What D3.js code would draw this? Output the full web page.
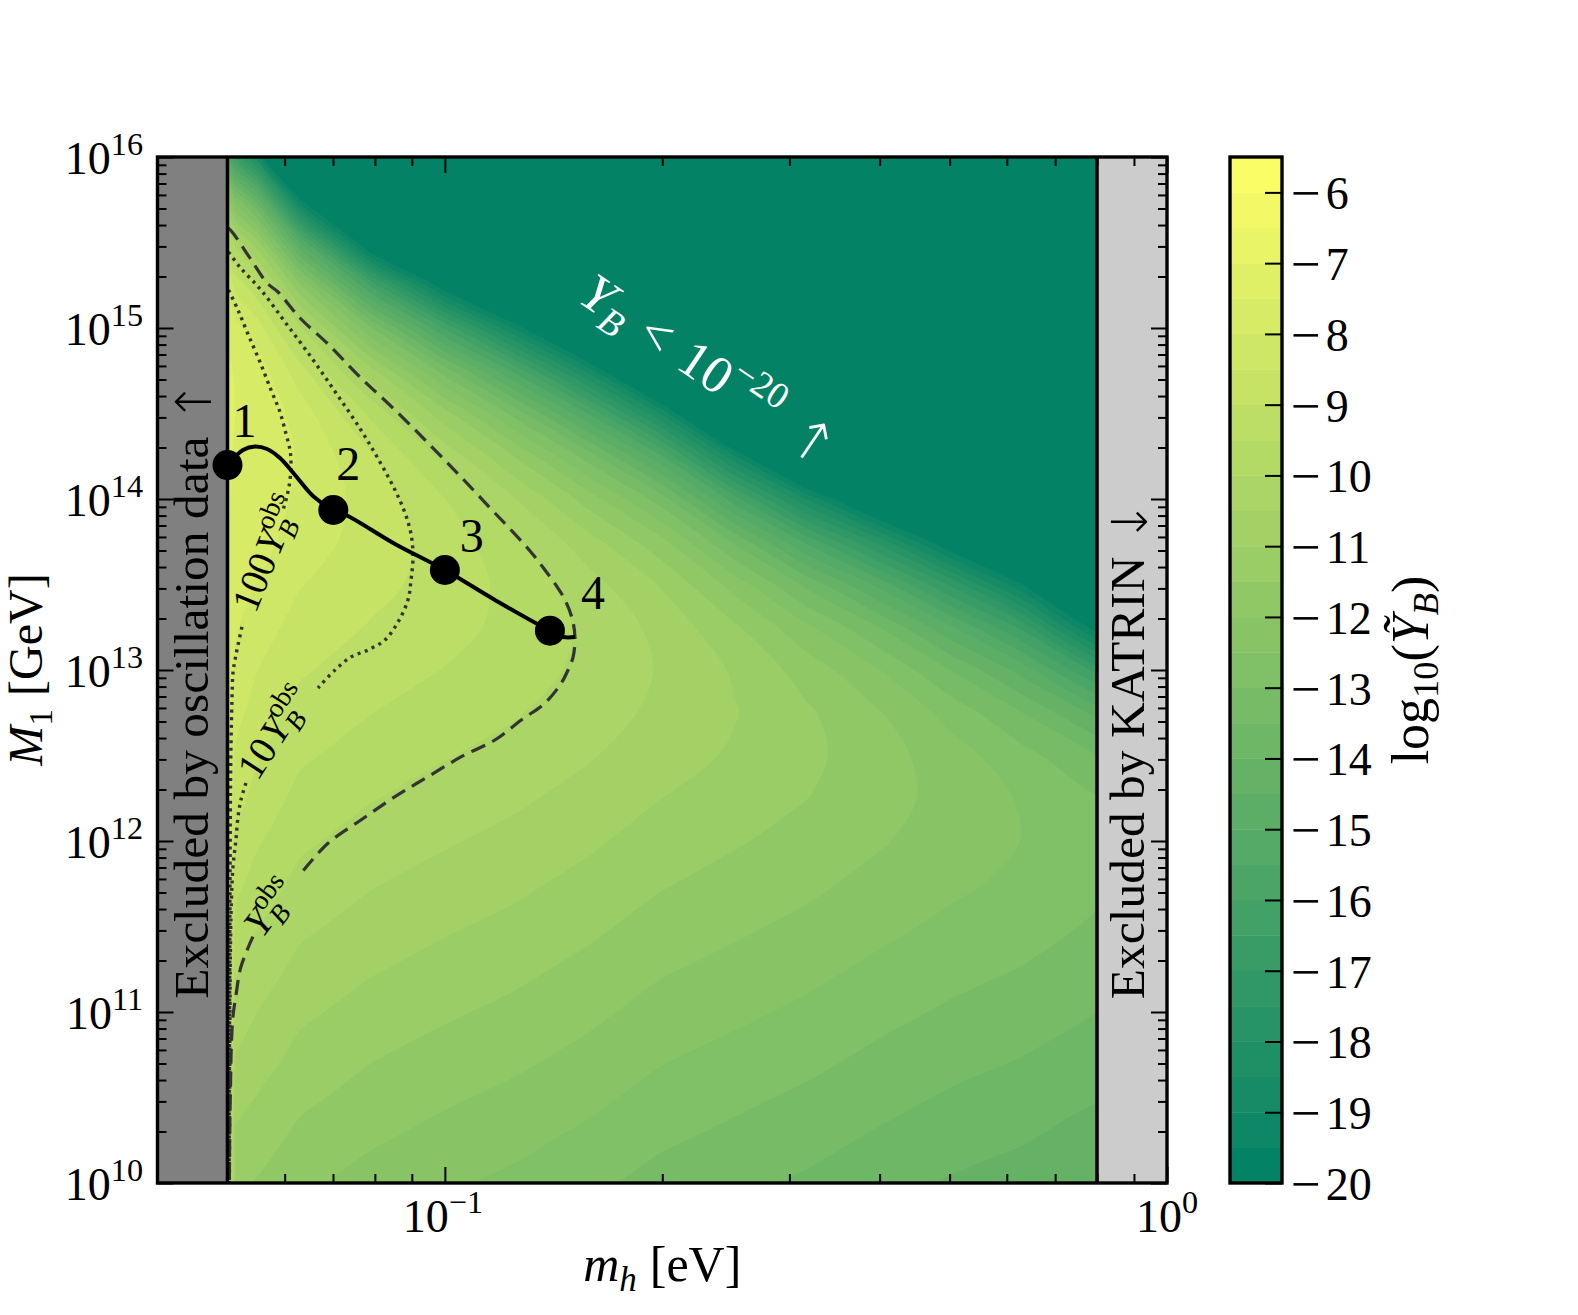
<!DOCTYPE html>
<html><head><meta charset="utf-8">
<script src="https://cdn.jsdelivr.net/npm/d3@7/dist/d3.min.js"></script>
<style>
html,body{margin:0;padding:0;background:#fff;}
svg text{font-family:"Liberation Serif","DejaVu Serif",serif;fill:#000;}
</style></head>
<body>
<svg id="fig" width="1578" height="1315"></svg>
<script>
// ---------------- DATA ----------------
// grid columns: m_h [eV]
const mhGrid = [0.05, 0.05129, 0.05495, 0.06310, 0.07943, 0.1000, 0.1259, 0.1585, 0.1995, 0.2512, 0.3162, 0.3981, 0.5012, 0.6310, 0.8128];
// grid rows: log10(M1 / GeV)
const log10M1Grid = [10, 10.25, 10.5, 10.75, 11, 11.25, 11.5, 11.75, 12, 12.25, 12.5, 12.75, 13, 13.25, 13.5, 13.75, 14, 14.25, 14.5, 14.75, 15, 15.25, 15.5, 15.75, 16];
// log10(Y_B) (rows follow log10M1Grid, columns follow mhGrid)
const logYBGrid = [
 [-8.60,-11.40,-11.54,-11.89,-12.20,-12.42,-12.62,-12.88,-13.18,-13.38,-13.58,-13.82,-14.05,-14.22,-14.47],
 [-8.52,-11.10,-11.28,-11.64,-11.95,-12.17,-12.38,-12.63,-12.93,-13.13,-13.33,-13.58,-13.80,-13.97,-14.23],
 [-8.45,-10.80,-11.02,-11.39,-11.70,-11.93,-12.13,-12.38,-12.68,-12.89,-13.09,-13.33,-13.56,-13.73,-13.98],
 [-8.38,-10.50,-10.76,-11.14,-11.46,-11.68,-11.88,-12.13,-12.44,-12.64,-12.84,-13.09,-13.31,-13.49,-13.74],
 [-8.30,-10.20,-10.50,-10.90,-11.21,-11.43,-11.63,-11.89,-12.19,-12.39,-12.60,-12.85,-13.07,-13.25,-13.51],
 [-8.22,-9.94,-10.24,-10.65,-10.96,-11.18,-11.39,-11.64,-11.95,-12.15,-12.36,-12.61,-12.84,-13.02,-13.28],
 [-8.15,-9.65,-9.98,-10.40,-10.71,-10.94,-11.14,-11.40,-11.70,-11.91,-12.12,-12.37,-12.61,-12.81,-13.08],
 [-8.08,-9.35,-9.72,-10.15,-10.47,-10.69,-10.90,-11.16,-11.46,-11.68,-11.89,-12.15,-12.40,-12.62,-12.91],
 [-8.00,-9.07,-9.44,-9.91,-10.22,-10.45,-10.66,-10.92,-11.23,-11.45,-11.68,-11.95,-12.24,-12.51,-12.85],
 [-7.92,-8.82,-9.18,-9.66,-9.98,-10.21,-10.42,-10.69,-11.00,-11.23,-11.49,-11.81,-12.17,-12.55,-12.99],
 [-7.85,-8.58,-8.95,-9.42,-9.74,-9.97,-10.19,-10.46,-10.79,-11.06,-11.38,-11.78,-12.28,-12.83,-13.54],
 [-7.78,-8.33,-8.74,-9.17,-9.50,-9.74,-9.97,-10.27,-10.62,-10.97,-11.42,-11.96,-12.68,-13.50,-14.73],
 [-7.70,-8.09,-8.50,-8.94,-9.27,-9.52,-9.78,-10.13,-10.55,-11.05,-11.71,-12.48,-13.51,-14.71,-16.83],
 [-7.62,-7.95,-8.27,-8.70,-9.05,-9.33,-9.66,-10.11,-10.65,-11.41,-12.39,-13.48,-14.92,-16.66,-20.12],
 [-7.55,-7.83,-8.02,-8.48,-8.85,-9.21,-9.68,-10.31,-11.05,-12.19,-13.62,-15.14,-17.09,-19.50,-24.89],
 [-7.50,-7.72,-7.78,-8.27,-8.72,-9.23,-9.93,-10.81,-11.86,-13.57,-15.59,-17.66,-20.21,-23.46,-30],
 [-7.45,-7.62,-7.66,-8.12,-8.72,-9.50,-10.52,-11.75,-13.27,-15.74,-18.50,-21.21,-24.47,-28.70,-30],
 [-7.42,-7.55,-7.58,-8.07,-8.97,-10.15,-11.57,-13.27,-15.44,-18.89,-22.53,-26.00,-30,-30,-30],
 [-7.40,-7.51,-7.55,-8.24,-9.64,-11.33,-13.25,-15.55,-18.58,-23.20,-27.90,-30,-30,-30,-30],
 [-7.45,-7.53,-7.72,-8.81,-10.92,-13.25,-15.73,-18.74,-22.90,-28.90,-30,-30,-30,-30,-30],
 [-7.60,-7.85,-8.26,-9.97,-13.04,-16.09,-19.18,-23.00,-28.50,-30,-30,-30,-30,-30,-30],
 [-8.10,-8.66,-9.38,-11.97,-16.20,-20.04,-23.75,-28.50,-30,-30,-30,-30,-30,-30,-30],
 [-9.50,-10.20,-11.30,-15.07,-20.70,-25.30,-29.60,-30,-30,-30,-30,-30,-30,-30,-30],
 [-11.70,-12.73,-14.25,-19.50,-26.70,-30,-30,-30,-30,-30,-30,-30,-30,-30,-30],
 [-15.20,-16.50,-18.48,-25.50,-30,-30,-30,-30,-30,-30,-30,-30,-30,-30,-30]
];
// filled-contour levels and colorbar ticks
const levels = [-20,-19.5,-19,-18.5,-18,-17.5,-17,-16.5,-16,-15.5,-15,-14.5,-14,-13.5,-13,-12.5,-12,-11.5,-11,-10.5,-10,-9.5,-9,-8.5,-8,-7.5,-7,-6.5,-6,-5.5];
const cbarTicks = [-6,-7,-8,-9,-10,-11,-12,-13,-14,-15,-16,-17,-18,-19,-20];
// axis ticks
const xMajor = [0.1, 1];
const xMinor = [0.05,0.06,0.07,0.08,0.09,0.2,0.3,0.4,0.5,0.6,0.7,0.8,0.9];
const yMajorExp = [10,11,12,13,14,15,16];
// benchmark curve (solid) and points
const benchMh = [0.0500,0.05253,0.05458,0.05672,0.05911,0.06201,0.06567,0.07007,0.07342,0.0853,0.1000,0.1173,0.1398,0.1458,0.1514];
const benchM1 = [1.580e14,1.934e14,2.028e14,1.961e14,1.737e14,1.381e14,1.041e14,8.623e13,7.953e13,5.456e13,3.844e13,2.568e13,1.698e13,1.560e13,1.560e13];
const pointMh = [0.0500, 0.07007, 0.1000, 0.1398];
const pointM1 = [1.580e14, 8.623e13, 3.844e13, 1.698e13];
const pointLabels = ["1","2","3","4"];
// Y_B^obs contour (dashed), two pieces around the inline label
const yobsUpper = [[0.05017,3.844e15],[0.05088,3.594e15],[0.05371,2.568e15],[0.05672,1.834e15],[0.05874,1.624e15],[0.06301,1.144e15],[0.06889,8.061e14],[0.07628,5.171e14],[0.0853,3.316e14],[0.09536,2.070e14],[0.1053,1.345e14],[0.1155,8.859e13],[0.1235,6.586e13],[0.1312,4.965e13],[0.1376,3.844e13],[0.1434,3.016e13],[0.1467,2.568e13],[0.1500,2.014e13],[0.1514,1.560e13],[0.1505,1.191e13],[0.1481,1.0e13],[0.1450,8.395e12],[0.1376,6.412e12],[0.1276,5.102e12],[0.1173,3.896e12],[0.1054,3.112e12],[0.09475,2.377e12],[0.0853,1.816e12],[0.07652,1.327e12],[0.06889,9.694e11],[0.06321,6.471e11]];
const yobsLower = [[0.05422,2.757e11],[0.0522,1.841e11],[0.05142,1.287e11],[0.05088,9.387e10],[0.0506,5.995e10],[0.0505,3.844e10],[0.05039,2.443e10],[0.05034,1.560e10],[0.0503,1.0e10]];
// 10 Y_B^obs contour (dotted)
const y10Upper = [[0.05017,2.783e15],[0.0520,2.274e15],[0.05564,1.668e15],[0.06007,1.084e15],[0.06526,6.767e14],[0.07067,4.169e14],[0.07652,2.533e14],[0.0813,1.646e14],[0.0853,1.129e14],[0.08806,8.280e13],[0.08977,6.241e13],[0.09034,4.580e13],[0.08977,3.360e13],[0.0889,2.568e13],[0.08614,1.909e13],[0.0826,1.498e13],[0.07825,1.309e13],[0.07413,1.191e13],[0.07045,1.0e13],[0.06673,7.847e12]];
const y10Lower = [[0.05303,2.184e12],[0.05219,1.737e12],[0.0517,1.381e12],[0.05136,1.013e12],[0.05088,7.047e11],[0.05063,4.519e11],[0.05047,2.305e11],[0.0504,1.0e11],[0.05035,3.0e10],[0.0503,1.0e10]];
// 100 Y_B^obs contour (dotted)
const y100Upper = [[0.05017,1.668e15],[0.0517,1.274e15],[0.05337,9.224e14],[0.05546,6.327e14],[0.05744,4.340e14],[0.05911,3.228e14],[0.06026,2.400e14],[0.06103,1.934e14],[0.06123,1.646e14],[0.06103,1.291e14],[0.06045,1.041e14],[0.05968,8.623e13]];
const y100Lower = [[0.05236,1.785e13],[0.0517,1.401e13],[0.05121,1.144e13],[0.05088,9.605e12],[0.05072,6.677e12],[0.05055,3.406e12],[0.05047,1.737e12],[0.05039,4.519e11],[0.05034,1.176e11],[0.0503,3.058e10],[0.05027,1.0e10]];
// inline label anchors (data coords) and angles
const clabelPos = [[0.05651,4.83e13,-68],[0.05798,4.34e12,-57],[0.05725,4.11e11,-53]];
const mhLimits = [0.04, 1], M1Limits = [1e10, 1e16];
const oscBound = 0.05, katrinBound = 0.8;

// ---------------- LAYOUT ----------------
const L = 157.5, R = 1167, T = 157, B = 1183;
const svg = d3.select("#fig");
const x = d3.scaleLog().domain(mhLimits).range([L, R]);
const y = d3.scaleLog().domain(M1Limits).range([B, T]);
const cbX0 = 1230, cbX1 = 1282;
const yc = d3.scaleLinear().domain([-20, -5.5]).range([B, T]);
const color = d3.scaleLinear().domain([-20, -5.5]).range(["#008066", "#ffff66"]).interpolate(d3.interpolateRgb);
const bandColor = t => color(t + 0.25);
const F = 46;
const ARROW_FONT = "'DejaVu Sans', sans-serif";

function rich(parent, items, size, opt) {
  const outer = parent.append("g").attr("transform", `translate(${opt.x},${opt.y}) rotate(${opt.rotate || 0})`);
  const inner = outer.append("g");
  let cx = 0, stackW = 0;
  for (const it of items) {
    if (it.gap) { cx += it.gap; continue; }
    const s = (it.s ? size * 0.7 : size) * (it.k || 1);
    const dy = (it.s === "sup" ? -0.42 * size : (it.s === "sub" ? 0.2 * size : 0)) + (it.dy || 0);
    const t = inner.append("text").attr("x", cx).attr("y", dy).attr("font-size", s)
      .attr("font-style", it.it ? "italic" : null).text(it.t);
    if (it.ff) t.style("font-family", it.ff).style("font-weight", "200");
    if (opt.fill) t.style("fill", opt.fill);
    const w = t.node().getComputedTextLength();
    if (it.stack) stackW = Math.max(stackW, w);
    else { cx += Math.max(w, stackW); stackW = 0; }
  }
  const bb = inner.node().getBBox();
  let dx = -bb.x;
  if (opt.anchor === "middle") dx = -(bb.x + bb.width / 2);
  else if (opt.anchor === "end") dx = -(bb.x + bb.width);
  const dy = opt.vcenter ? -(bb.y + bb.height / 2) : 0;
  inner.attr("transform", `translate(${dx},${dy})`);
  return outer;
}

// ---------------- FIELD ----------------
const defs = svg.append("defs");
defs.append("clipPath").attr("id", "fieldClip").append("rect")
  .attr("x", x(oscBound)).attr("y", T).attr("width", x(katrinBound) - x(oscBound)).attr("height", B - T);
const field = svg.append("g").attr("clip-path", "url(#fieldClip)");
field.append("rect").attr("x", x(oscBound)).attr("y", T)
  .attr("width", x(katrinBound) - x(oscBound)).attr("height", B - T).attr("fill", bandColor(-20));

const nx = mhGrid.length, ny = log10M1Grid.length;
const values = [];
for (let j = 0; j < ny; j++) for (let i = 0; i < nx; i++) values.push(logYBGrid[j][i]);
const thresholds = levels.slice(1, -1);
const cs = d3.contours().size([nx, ny]).thresholds(thresholds)(values);
// grid index -> data coordinate (piecewise linear, extended half a cell beyond the outer nodes; outside parts are clipped)
const colIdx = d3.scaleLinear().domain(d3.range(nx)).range(mhGrid.map(Math.log10));
const rowIdx = d3.scaleLinear().domain(d3.range(ny)).range(log10M1Grid);
const gx = c => x(Math.pow(10, colIdx(c - 0.5)));
const gy = c => y(Math.pow(10, rowIdx(c - 0.5)));
const ringLine = d3.line().curve(d3.curveCatmullRomClosed.alpha(0.5));
function bandPath(geom) {
  let d = "";
  for (const poly of geom.coordinates)
    for (const ring of poly)
      d += ringLine(ring.slice(0, -1).map(p => [gx(p[0]), gy(p[1])]));
  return d;
}
field.selectAll("path.band").data(cs).join("path").attr("class", "band")
  .attr("d", bandPath).attr("fill", d => bandColor(d.value))
  .attr("stroke", d => bandColor(d.value)).attr("stroke-width", 0.6);

// excluded strips
svg.append("rect").attr("x", L).attr("y", T).attr("width", x(oscBound) - L).attr("height", B - T).attr("fill", "#808080");
svg.append("rect").attr("x", x(katrinBound)).attr("y", T).attr("width", R - x(katrinBound)).attr("height", B - T).attr("fill", "#cccccc");

// ---------------- CONTOUR LINES ----------------
const line = d3.line().x(d => x(d[0])).y(d => y(d[1])).curve(d3.curveCatmullRom.alpha(0.5));
const lineG = svg.append("g").attr("fill", "none");
[yobsUpper, yobsLower].forEach(seg => lineG.append("path").attr("d", line(seg))
  .attr("stroke", "#333").attr("stroke-width", 3.2).attr("stroke-dasharray", "15,8"));
[y10Upper, y10Lower, y100Upper, y100Lower].forEach(seg => lineG.append("path").attr("d", line(seg))
  .attr("stroke", "#333").attr("stroke-width", 3.4).attr("stroke-dasharray", "3,4.6"));

// inline labels
const clabelItems = [
  [{ t: "100" }, { gap: 3 }, { t: "Y", it: true }, { t: "B", it: true, s: "sub", stack: true }, { t: "obs", s: "sup" }],
  [{ t: "10" }, { gap: 3 }, { t: "Y", it: true }, { t: "B", it: true, s: "sub", stack: true }, { t: "obs", s: "sup" }],
  [{ t: "Y", it: true }, { t: "B", it: true, s: "sub", stack: true }, { t: "obs", s: "sup" }]
];
clabelPos.forEach((p, i) => rich(svg, clabelItems[i], 39, { x: x(p[0]), y: y(p[1]), rotate: p[2], anchor: "middle", vcenter: true }));

// benchmark curve & points
const benchData = benchMh.map((m, i) => [m, benchM1[i]]);
svg.append("path").attr("d", line(benchData))
  .attr("fill", "none").attr("stroke", "#000").attr("stroke-width", 4);
const pts = pointMh.map((m, i) => ({ m, M: pointM1[i], lab: pointLabels[i] }));
svg.selectAll("circle.pt").data(pts).join("circle").attr("class", "pt")
  .attr("cx", d => x(d.m)).attr("cy", d => y(d.M)).attr("r", 15).attr("fill", "#000");
const labOff = [[17, -45], [15, -47], [27, -35], [43, -38]];
pts.forEach((d, i) => rich(svg, [{ t: d.lab }], 48, { x: x(d.m) + labOff[i][0], y: y(d.M) + labOff[i][1], anchor: "middle", vcenter: true }));

// region annotations
rich(svg, [{ t: "Y", it: true }, { t: "B", it: true, s: "sub" }, { gap: 18 }, { t: "<" }, { gap: 18 }, { t: "10" }, { t: "\u221220", s: "sup" }, { gap: 22 }, { t: "\u2191", ff: ARROW_FONT, k: 1.05, dy: 4 }],
  53, { x: x(0.2285) + 6, y: y(6.33e14) + 7, rotate: 34, anchor: "middle", vcenter: true, fill: "#fff" });
rich(svg, [{ t: "Excluded by oscillation data" }, { gap: 14 }, { t: "\u2191", ff: ARROW_FONT, k: 1.0, dy: 3 }], 49.5,
  { x: (L + x(oscBound)) / 2 + 16, y: y(7.64e12), rotate: -90, anchor: "middle" });
rich(svg, [{ t: "Excluded by KATRIN" }, { gap: 14 }, { t: "\u2193", ff: ARROW_FONT, k: 1.0, dy: 3 }], 49.5,
  { x: (x(katrinBound) + R) / 2 + 12, y: y(3.4e12), rotate: -90, anchor: "middle" });

// boundary lines
[oscBound, katrinBound].forEach(v => svg.append("line").attr("x1", x(v)).attr("x2", x(v)).attr("y1", T).attr("y2", B)
  .attr("stroke", "#000").attr("stroke-width", 3.5));

// ---------------- AXES ----------------
function tickStyle(g) { g.select(".domain").remove(); g.selectAll("line").attr("stroke", "#000").attr("stroke-width", 2); }
const yMajor = yMajorExp.map(e => Math.pow(10, e));
const yMinor = [];
for (let e = 10; e < 16; e++) for (let k = 2; k <= 9; k++) yMinor.push(k * Math.pow(10, e));
svg.append("g").attr("transform", `translate(0,${B})`).call(d3.axisBottom(x).tickValues(xMinor).tickSize(-9).tickFormat("")).call(tickStyle);
svg.append("g").attr("transform", `translate(0,${B})`).call(d3.axisBottom(x).tickValues(xMajor).tickSize(-16).tickFormat("")).call(tickStyle);
svg.append("g").attr("transform", `translate(0,${T})`).call(d3.axisTop(x).tickValues(xMinor).tickSize(-9).tickFormat("")).call(tickStyle);
svg.append("g").attr("transform", `translate(0,${T})`).call(d3.axisTop(x).tickValues(xMajor).tickSize(-16).tickFormat("")).call(tickStyle);
svg.append("g").attr("transform", `translate(${L},0)`).call(d3.axisLeft(y).tickValues(yMinor).tickSize(-9).tickFormat("")).call(tickStyle);
svg.append("g").attr("transform", `translate(${L},0)`).call(d3.axisLeft(y).tickValues(yMajor).tickSize(-16).tickFormat("")).call(tickStyle);
svg.append("g").attr("transform", `translate(${R},0)`).call(d3.axisRight(y).tickValues(yMinor).tickSize(-9).tickFormat("")).call(tickStyle);
svg.append("g").attr("transform", `translate(${R},0)`).call(d3.axisRight(y).tickValues(yMajor).tickSize(-16).tickFormat("")).call(tickStyle);

// frame
svg.append("rect").attr("x", L).attr("y", T).attr("width", R - L).attr("height", B - T)
  .attr("fill", "none").attr("stroke", "#000").attr("stroke-width", 3.4);

// tick labels
yMajorExp.forEach(e => rich(svg, [{ t: "10" }, { t: String(e), s: "sup" }], F, { x: 143, y: y(Math.pow(10, e)) + 17, anchor: "end" }));
rich(svg, [{ t: "10" }, { t: "\u22121", s: "sup" }], F, { x: x(0.1) - 2, y: 1232, anchor: "middle" });
rich(svg, [{ t: "10" }, { t: "0", s: "sup" }], F, { x: x(1), y: 1232, anchor: "middle" });

// axis labels
rich(svg, [{ t: "m", it: true }, { t: "h", it: true, s: "sub" }, { gap: 13 }, { t: "[eV]" }], 50, { x: (L + R) / 2, y: 1281, anchor: "middle" });
rich(svg, [{ t: "M", it: true }, { t: "1", s: "sub" }, { gap: 13 }, { t: "[GeV]" }], 48, { x: 42, y: (T + B) / 2, rotate: -90, anchor: "middle" });

// ---------------- COLORBAR ----------------
const cb = svg.append("g");
cb.selectAll("rect.band").data(levels.slice(0, -1)).join("rect").attr("class", "band")
  .attr("x", cbX0).attr("width", cbX1 - cbX0)
  .attr("y", d => yc(d + 0.5)).attr("height", d => yc(d) - yc(d + 0.5) + 0.4)
  .attr("fill", d => bandColor(d));
cb.append("g").attr("transform", `translate(${cbX1},0)`)
  .call(d3.axisRight(yc).tickValues(cbarTicks).tickSize(-17).tickFormat("")).call(tickStyle);
cb.append("rect").attr("x", cbX0).attr("y", T).attr("width", cbX1 - cbX0).attr("height", B - T)
  .attr("fill", "none").attr("stroke", "#000").attr("stroke-width", 3.4);
cbarTicks.forEach(v => rich(svg, [{ t: "\u2212", k: 1.15, dy: 2 }, { gap: 5 }, { t: String(Math.abs(v)) }], F, { x: 1291, y: yc(v) + 17, anchor: "start" }));
rich(svg, [{ t: "log" }, { t: "10", s: "sub" }, { t: "(" }, { t: "\u1EF8", it: true }, { t: "B", it: true, s: "sub" }, { t: ")" }], 52,
  { x: 1428, y: (T + B) / 2, rotate: -90, anchor: "middle" });
</script>
</body></html>
